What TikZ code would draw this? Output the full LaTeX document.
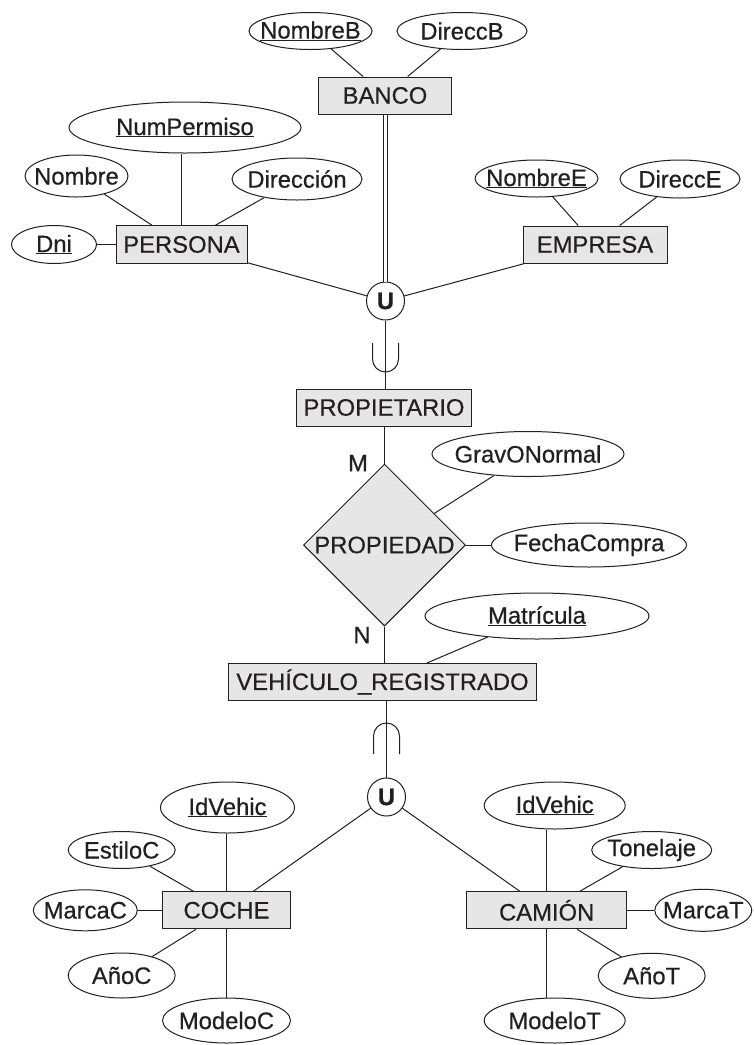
\documentclass[tikz,border=0pt]{standalone}
\usepackage{fontspec}
\setmainfont{Liberation Sans}[FakeBold=0.5]
\usetikzlibrary{shapes.geometric}
\definecolor{ink}{HTML}{231F20}
\definecolor{boxfill}{HTML}{E6E6E6}
\newcommand\ztext[1]{\makebox[0pt][c]{#1}}
\begin{document}
\begin{tikzpicture}[x=1pt,y=-1pt,line width=1pt,color=ink,
  every node/.style={font=\fontsize{23.8}{28}\selectfont},
  entity/.style 2 args={draw,fill=boxfill,rectangle,inner sep=0pt,minimum width=#1,minimum height=#2},
  attr/.style 2 args={draw,ellipse,inner sep=0pt,minimum width=#1,minimum height=#2},
  unode/.style={draw,circle,inner sep=0pt,minimum size=38pt,fill=white},
  rel/.style={draw,diamond,fill=boxfill,inner sep=0pt,minimum width=162pt,minimum height=162pt},
  card/.style={inner sep=0pt}]
\useasboundingbox (0,0) rectangle (753,1045);
\fill[white] (0,0) rectangle (753,1045);

% ---- BANCO
\node[entity={133pt}{37pt}] (banco) at (385,95.5) {BANCO};
\node[attr={123pt}{37pt}] (nombreB) at (310.5,31) {\ztext{\underline{NombreB}}};
\node[attr={130pt}{37pt}] (direccB) at (462,31) {\ztext{DireccB}};
% ---- PERSONA
\node[entity={131pt}{37.5pt}] (persona) at (181.5,244.5) {PERSONA};
\node[attr={232pt}{51pt}] (numPermiso) at (185,127.5) {\ztext{\underline{NumPermiso}}};
\node[attr={103pt}{42pt}] (nombre) at (76.5,176) {\ztext{Nombre}};
\node[attr={130pt}{42pt}] (direccion) at (297,179) {\ztext{Dirección}};
\node[attr={85pt}{38pt}] (dni) at (54,244.5) {\ztext{\underline{Dni}}};
% ---- EMPRESA
\node[entity={144pt}{37pt}] (empresa) at (595,244.5) {EMPRESA};
\node[attr={123pt}{37pt}] (nombreE) at (536.5,178.5) {\ztext{\underline{NombreE}}};
\node[attr={120pt}{38pt}] (direccE) at (680,179) {\ztext{DireccE}};
% ---- union 1
\node[unode] (u1) at (385.5,301) {\bfseries U};
% ---- PROPIETARIO
\node[entity={175pt}{37pt}] (propietario) at (384,407.5) {PROPIETARIO};
% ---- PROPIEDAD
\node[rel] (propiedad) at (384.5,545) {\ztext{PROPIEDAD}};
\node[attr={192pt}{45pt}] (grav) at (528,454) {\ztext{GravONormal}};
\node[attr={195pt}{44pt}] (fecha) at (589,545) {\ztext{FechaCompra}};
\node[card] (mlab) at (358,463) {M};
\node[card] (nlab) at (362,635) {N};
% ---- VEHICULO
\node[entity={308pt}{37pt}] (vehiculo) at (382.5,682) {VEHÍCULO\_REGISTRADO};
\node[attr={224pt}{46pt}] (matricula) at (537,616) {\ztext{\underline{Matrícula}}};
% ---- union 2
\node[unode] (u2) at (386.5,797) {\bfseries U};
% ---- COCHE
\node[entity={128pt}{37pt}] (coche) at (226.5,910.3) {COCHE};
\node[attr={134pt}{51pt}] (idC) at (227.5,807.5) {\ztext{\underline{IdVehic}}};
\node[attr={107pt}{37pt}] (estiloC) at (121.7,850) {\ztext{EstiloC}};
\node[attr={104pt}{41pt}] (marcaC) at (85.3,910.3) {\ztext{MarcaC}};
\node[attr={107pt}{45pt}] (anoC) at (121.7,975.5) {\ztext{AñoC}};
\node[attr={128pt}{45pt}] (modeloC) at (226.5,1020.5) {\ztext{ModeloC}};
% ---- CAMION
\node[entity={160pt}{37pt}] (camion) at (546.7,910.3) {CAMIÓN};
\node[attr={141pt}{47pt}] (idT) at (554.7,805.5) {\ztext{\underline{IdVehic}}};
\node[attr={120pt}{37pt}] (tonelaje) at (651.7,850) {\ztext{Tonelaje}};
\node[attr={97pt}{42pt}] (marcaT) at (703.3,910.3) {\ztext{MarcaT}};
\node[attr={107pt}{45pt}] (anoT) at (651.7,975.8) {\ztext{AñoT}};
\node[attr={141pt}{45pt}] (modeloT) at (554.7,1020.5) {\ztext{ModeloT}};

% ---- connectors
\draw (nombreB) -- (banco);
\draw (direccB) -- (banco);
\draw[double,double distance=2.6pt,line width=0.8pt] (banco.south -| u1.north) -- (u1.north);
\draw (numPermiso.south -| persona.north) -- (persona.north);
\draw (nombre) -- (persona);
\draw (direccion) -- (persona);
\draw (dni) -- (persona);
\draw (nombreE) -- (empresa);
\draw (direccE) -- (empresa);
\draw (persona) -- (u1);
\draw (empresa) -- (u1);
\draw (u1.south) -- (u1.south |- propietario.north);
\draw (propietario.south -| propiedad.north) -- (propiedad.north);
\draw (grav) -- (propiedad);
\draw (fecha) -- (propiedad);
\draw (propiedad.south) -- (propiedad.south |- vehiculo.north);
\draw (matricula) -- (vehiculo);
\draw (vehiculo.south -| u2.north) -- (u2.north);
\draw (u2) -- (coche);
\draw (u2) -- (camion);
\draw (idC.south -| coche.north) -- (coche.north);
\draw (estiloC) -- (coche);
\draw (marcaC) -- (coche);
\draw (anoC) -- (coche);
\draw (modeloC.north -| coche.south) -- (coche.south);
\draw (idT.south -| camion.north) -- (camion.north);
\draw (tonelaje) -- (camion);
\draw (marcaT) -- (camion);
\draw (anoT) -- (camion);
\draw (modeloT.north -| camion.south) -- (camion.south);

% ---- subset symbols
\draw (372.5,343) -- (372.5,359) arc (180:0:13) -- (398.5,343);
\draw (373.5,754) -- (373.5,736) arc (180:360:13) -- (399.5,754);
\end{tikzpicture}
\end{document}
